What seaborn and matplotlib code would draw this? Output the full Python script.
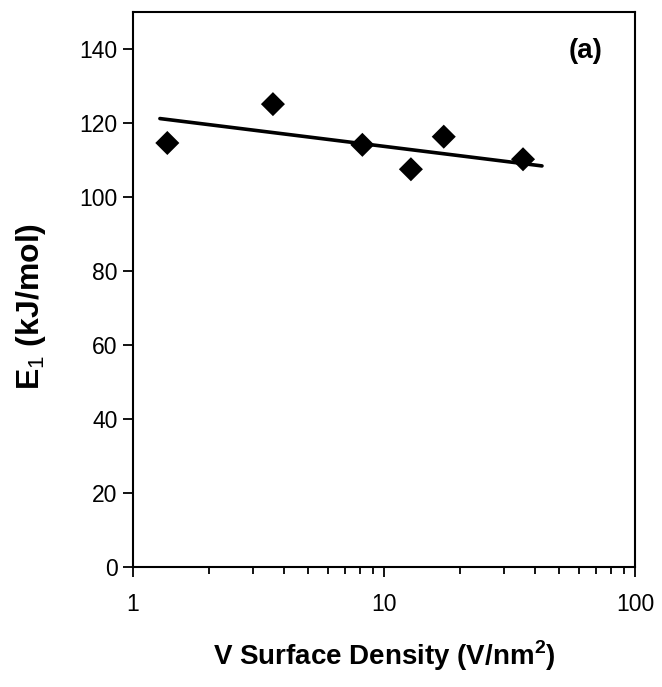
import pandas as pd
import matplotlib
matplotlib.use('Agg')
import matplotlib.pyplot as plt
import seaborn as sns
from matplotlib.ticker import FixedLocator, NullFormatter

# Data
density = [1.37, 3.61, 8.2, 12.8, 17.3, 35.8]
e1 = [114.6, 125.1, 114.1, 107.5, 116.3, 110.2]

# Trend line end points
fit_x = [1.28, 42.6]
fit_y = [121.2, 108.4]

y_ticks = [0, 20, 40, 60, 80, 100, 120, 140]
x_ticks = [1, 10, 100]
x_tick_labels = ['1', '10', '100']

sns.set_style('ticks')
plt.rcParams['font.family'] = ['Liberation Sans', 'DejaVu Sans']
plt.rcParams['mathtext.fontset'] = 'custom'
plt.rcParams['mathtext.rm'] = 'Liberation Sans'
plt.rcParams['mathtext.bf'] = 'Liberation Sans:bold'
for key in ['text.color', 'axes.labelcolor', 'xtick.color', 'ytick.color']:
    plt.rcParams[key] = 'black'

fig = plt.figure(figsize=(6.62, 6.87), dpi=100)
ax = fig.add_axes([133 / 662, 1 - 567 / 687, (635 - 133) / 662, (567 - 12) / 687])

points = pd.DataFrame({'density': density, 'e1': e1})
trend = pd.DataFrame({'x': fit_x, 'y': fit_y})

sns.lineplot(data=trend, x='x', y='y', color='black', linewidth=2.6, ax=ax)
sns.scatterplot(data=points, x='density', y='e1', marker='D', s=150,
                color='black', edgecolor='none', ax=ax, zorder=3)

ax.set_xscale('log')
ax.set_xlim(1, 100)
ax.set_ylim(0, 150)
ax.set_xticks(x_ticks)
ax.set_xticklabels(x_tick_labels)
ax.xaxis.set_minor_locator(FixedLocator([2, 3, 4, 5, 6, 7, 8, 9,
                                         20, 30, 40, 50, 60, 70, 80, 90]))
ax.xaxis.set_minor_formatter(NullFormatter())
ax.set_yticks(y_ticks)

ax.tick_params(axis='both', which='major', direction='out', length=7, width=1.3,
               labelsize=16.5, pad=4)
ax.tick_params(axis='x', which='minor', direction='out', length=5, width=1.3)
ax.tick_params(axis='x', which='major', pad=12)
for sp in ax.spines.values():
    sp.set_linewidth(1.5)
    sp.set_color('black')

ax.set_xlabel(r'V Surface Density (V/nm$^{\mathbf{2}}$)', fontsize=20,
              fontweight='bold', labelpad=16)
ax.set_ylabel(r'E$_{\rm 1}$ (kJ/mol)', fontsize=23, fontweight='bold', labelpad=17)
ax.yaxis.set_label_coords(-0.17, 0.47)
ax.text(0.935, 0.93, '(a)', transform=ax.transAxes, fontsize=20,
        fontweight='bold', ha='right', va='center')

fig.savefig('out.png', dpi=100)
